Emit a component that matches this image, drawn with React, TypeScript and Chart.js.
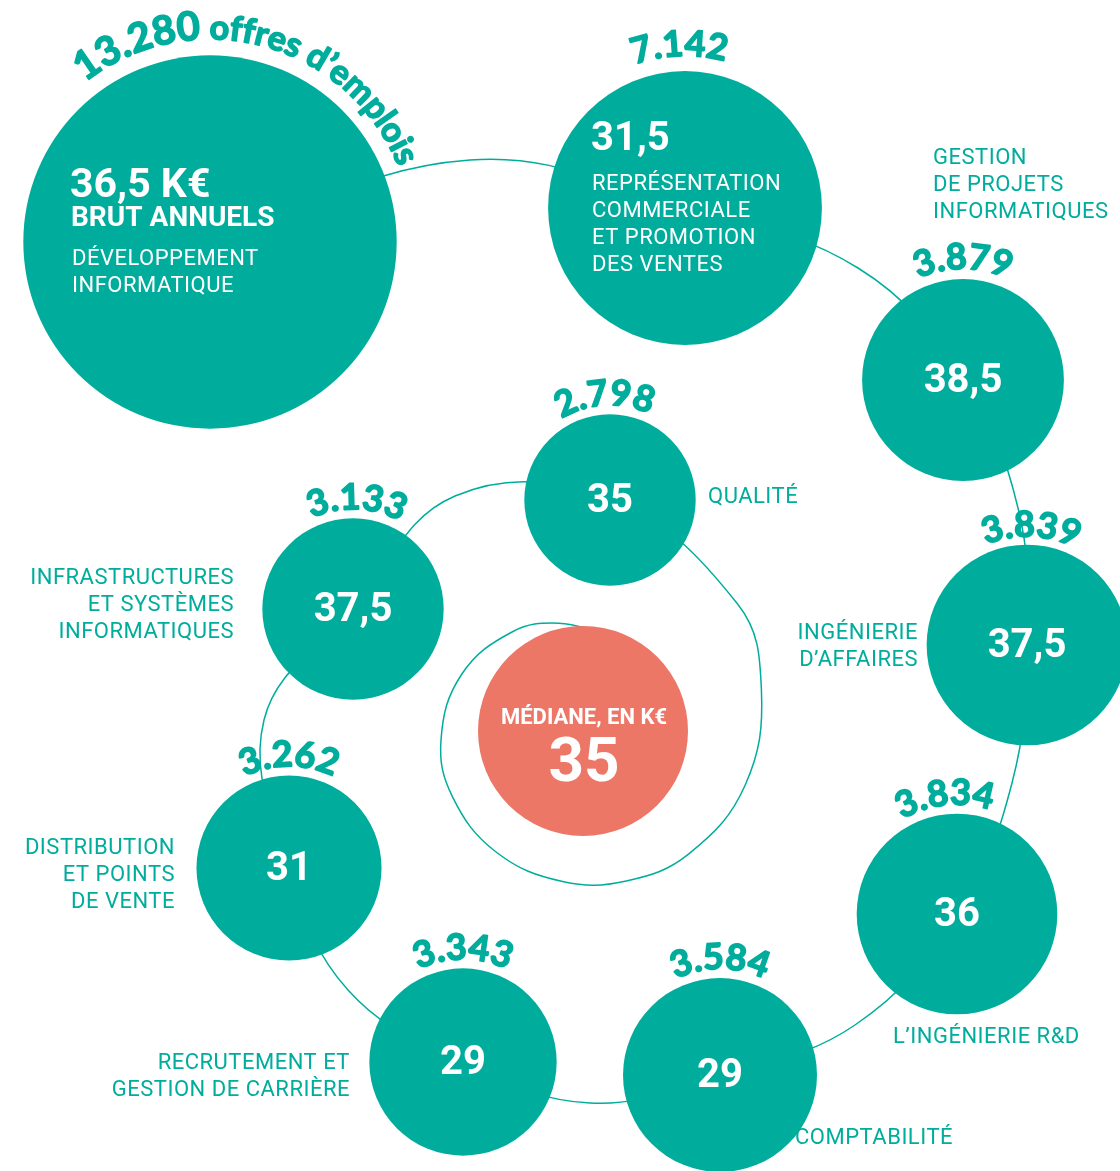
import React, { useEffect, useRef } from 'react';
import { Chart, registerables } from 'chart.js';
Chart.register(...registerables);

// ---------- DATA ----------
const CATEGORY_LINES: string[][] = [
  ['DÉVELOPPEMENT', 'INFORMATIQUE'],
  ['REPRÉSENTATION', 'COMMERCIALE', 'ET PROMOTION', 'DES VENTES'],
  ['GESTION', 'DE PROJETS', 'INFORMATIQUES'],
  ['INGÉNIERIE', 'D’AFFAIRES'],
  ['L’INGÉNIERIE R&D'],
  ['COMPTABILITÉ'],
  ['RECRUTEMENT ET', 'GESTION DE CARRIÈRE'],
  ['DISTRIBUTION', 'ET POINTS', 'DE VENTE'],
  ['INFRASTRUCTURES', 'ET SYSTÈMES', 'INFORMATIQUES'],
  ['QUALITÉ'],
];
const OFFERS = [13280, 7142, 3879, 3839, 3834, 3584, 3343, 3262, 3133, 2798];
const SALARIES = [36.5, 31.5, 38.5, 37.5, 36, 29, 29, 31, 37.5, 35];
const MEDIAN = 35;
const MEDIAN_LABEL = 'MÉDIANE, EN K€';
const UNIT_LINE = 'BRUT ANNUELS';
const OFFERS_SUFFIX = ' offres d’emplois';

// ---------- LAYOUT (positions / styles only) ----------
const W = 1120;
const H = 1171;
const TEAL = '#00AD9D';
const SALMON = '#EC7766';
const RADIUS_K = 1.62; // radius = K * sqrt(offers)
const POS_X = [210, 685, 963, 1027, 957, 720, 463, 289, 353, 610];
const POS_Y = [242, 208, 380, 645, 914, 1075, 1062, 868, 609, 500];
const NUM_ANGLE = [-128, -92, -90, -88, -96, -90, -90, -90, -88, -93];
const NUM_GAP = [16, 15, 10, 8, 9, 9, 9, 9, 9, 9];
const MEDIAN_POS = { x: 583, y: 731, r: 105 };
// label placement: mode, x, first line y (centre)
const LABEL_POS: { mode: string; x: number; y: number }[] = [
  { mode: 'insideBig', x: 72, y: 259 },
  { mode: 'insideHead', x: 592, y: 184 },
  { mode: 'left', x: 933, y: 158 },
  { mode: 'right', x: 918, y: 633 },
  { mode: 'left', x: 893, y: 1037 },
  { mode: 'left', x: 795, y: 1138 },
  { mode: 'right', x: 350, y: 1063 },
  { mode: 'right', x: 175, y: 848 },
  { mode: 'right', x: 234, y: 578 },
  { mode: 'left', x: 708, y: 497 },
];
// connector path between circles: circle indexes or via points
const PATH: (number | [number, number])[] = [
  0, [470, 160], 1, [858, 268], 2, [1018, 508], 3, [1012, 783], 4, [855, 1025], 5,
  [590, 1103], 6, [348, 990], 7, [264, 720], 8, [455, 496], 9,
];
// inner spiral around the median bubble (angle in degrees, distance from spiral centre)
const SPIRAL_CENTER = { x: 575, y: 740 };
const SPIRAL_ANGLES = [-40, -15, 15, 45, 70, 95, 125, 155, 180, 210, 240, 262, 285];
const SPIRAL_RADII = [212, 193, 176, 161, 150, 142, 137, 135, 134, 131, 125, 118, 110];

const fmtOffers = (n: number) => n.toLocaleString('de-DE');
const fmtSal = (n: number) => String(n).replace('.', ',');

type Seg = { text: string; font: string };
// draws segments along an arc; if `fromStart` the angle is the start angle, else the centre angle
function arcText(ctx: CanvasRenderingContext2D, segs: Seg[], cx: number, cy: number, R: number, deg: number, fromStart: boolean) {
  const chars: { c: string; font: string; w: number }[] = [];
  segs.forEach((s) => {
    ctx.font = s.font;
    Array.from(s.text).forEach((c) => chars.push({ c, font: s.font, w: ctx.measureText(c).width }));
  });
  const total = chars.reduce((a, b) => a + b.w, 0);
  let a = (deg * Math.PI) / 180 - (fromStart ? 0 : total / R / 2);
  ctx.save();
  ctx.textAlign = 'center';
  ctx.textBaseline = 'alphabetic';
  ctx.lineJoin = 'round';
  chars.forEach((ch) => {
    const half = ch.w / 2 / R;
    a += half;
    ctx.save();
    ctx.font = ch.font;
    ctx.translate(cx + R * Math.cos(a), cy + R * Math.sin(a));
    ctx.rotate(a + Math.PI / 2);
    ctx.fillText(ch.c, 0, 0);
    ctx.strokeText(ch.c, 0, 0);
    ctx.restore();
    a += half;
  });
  ctx.restore();
}

const NUM_FONT = 'bold 36px Lato, "Open Sans", sans-serif';
const VAL_FONT = 'bold 40px Roboto, sans-serif';
const LAB_FONT = '22px Roboto, sans-serif';

const labelsPlugin = {
  id: 'infoLabels',
  afterDraw(chart: any) {
    const { ctx } = chart;
    const xs = chart.scales.x;
    const ys = chart.scales.y;
    ctx.save();
    OFFERS.forEach((o, i) => {
      const cx = xs.getPixelForValue(POS_X[i]);
      const cy = ys.getPixelForValue(POS_Y[i]);
      const r = RADIUS_K * Math.sqrt(o);
      ctx.fillStyle = TEAL;
      ctx.strokeStyle = TEAL;
      ctx.lineWidth = 1.6;
      (ctx as any).letterSpacing = '0px';
      if (i === 0) {
        arcText(
          ctx,
          [
            { text: fmtOffers(o), font: 'bold 40px Lato, "Open Sans", sans-serif' },
            { text: OFFERS_SUFFIX, font: 'bold 34px Lato, "Open Sans", sans-serif' },
          ],
          cx, cy, r + NUM_GAP[i], NUM_ANGLE[i], true
        );
      } else {
        arcText(ctx, [{ text: fmtOffers(o), font: NUM_FONT }], cx, cy, r + NUM_GAP[i], NUM_ANGLE[i], false);
      }
      const lp = LABEL_POS[i];
      const lines = CATEGORY_LINES[i];
      ctx.textBaseline = 'middle';
      if (lp.mode === 'insideBig') {
        ctx.fillStyle = '#fff';
        ctx.textAlign = 'left';
        ctx.font = 'bold 41px Roboto, sans-serif';
        ctx.fillText(fmtSal(SALARIES[i]) + ' K€', lp.x - 2, lp.y - 72);
        ctx.font = 'bold 28px Roboto, sans-serif';
        ctx.fillText(UNIT_LINE, lp.x - 1, lp.y - 40);
        (ctx as any).letterSpacing = '0.5px';
        ctx.font = LAB_FONT;
        lines.forEach((l, k) => ctx.fillText(l, lp.x, lp.y + k * 27));
      } else if (lp.mode === 'insideHead') {
        ctx.fillStyle = '#fff';
        ctx.textAlign = 'left';
        ctx.font = 'bold 40px Roboto, sans-serif';
        ctx.fillText(fmtSal(SALARIES[i]), lp.x - 1, lp.y - 44);
        (ctx as any).letterSpacing = '0.5px';
        ctx.font = LAB_FONT;
        lines.forEach((l, k) => ctx.fillText(l, lp.x, lp.y + k * 27));
      } else {
        ctx.fillStyle = '#fff';
        ctx.textAlign = 'center';
        ctx.font = VAL_FONT;
        ctx.fillText(fmtSal(SALARIES[i]), cx, cy + 2);
        ctx.fillStyle = TEAL;
        (ctx as any).letterSpacing = '0.5px';
        ctx.font = LAB_FONT;
        ctx.textAlign = lp.mode === 'left' ? 'left' : 'right';
        lines.forEach((l, k) => ctx.fillText(l, lp.x, lp.y + k * 27));
      }
    });
    (ctx as any).letterSpacing = '0px';
    const mx = xs.getPixelForValue(MEDIAN_POS.x);
    const my = ys.getPixelForValue(MEDIAN_POS.y);
    ctx.fillStyle = '#fff';
    ctx.textAlign = 'center';
    ctx.textBaseline = 'middle';
    ctx.font = 'bold 22px Roboto, sans-serif';
    ctx.fillText(MEDIAN_LABEL, mx + 1, my - 13);
    ctx.font = 'bold 62px Roboto, sans-serif';
    ctx.fillText(fmtSal(MEDIAN), mx + 1, my + 34);
    ctx.restore();
  },
};

export default function App() {
  const ref = useRef<HTMLCanvasElement>(null);
  useEffect(() => {
    document.body.style.margin = '0';
    const connector = PATH.map((p) =>
      typeof p === 'number' ? { x: POS_X[p], y: POS_Y[p] } : { x: p[0], y: p[1] }
    );
    SPIRAL_ANGLES.forEach((a, k) => {
      const rad = (a * Math.PI) / 180;
      connector.push({
        x: SPIRAL_CENTER.x + SPIRAL_RADII[k] * Math.cos(rad),
        y: SPIRAL_CENTER.y + SPIRAL_RADII[k] * Math.sin(rad),
      });
    });
    const bubbles = OFFERS.map((o, i) => ({ x: POS_X[i], y: POS_Y[i], r: RADIUS_K * Math.sqrt(o) }));
    const chart = new Chart(ref.current!, {
      type: 'bubble',
      data: {
        datasets: [
          {
            type: 'line',
            data: connector,
            borderColor: TEAL,
            borderWidth: 1.5,
            pointRadius: 0,
            tension: 0.4,
            fill: false,
            order: 3,
            clip: false,
          } as any,
          {
            type: 'bubble',
            data: bubbles,
            backgroundColor: TEAL,
            borderWidth: 0,
            order: 2,
            clip: false,
          } as any,
          {
            type: 'bubble',
            data: [{ x: MEDIAN_POS.x, y: MEDIAN_POS.y, r: MEDIAN_POS.r }],
            backgroundColor: SALMON,
            borderWidth: 0,
            order: 1,
            clip: false,
          } as any,
        ],
      },
      options: {
        responsive: false,
        animation: false,
        events: [],
        layout: { padding: 0, autoPadding: false },
        plugins: { legend: { display: false }, tooltip: { enabled: false }, title: { display: false } },
        scales: {
          x: { type: 'linear', min: 0, max: W, display: false },
          y: { type: 'linear', min: 0, max: H, reverse: true, display: false },
        },
      } as any,
      plugins: [labelsPlugin],
    });
    const fonts = ['bold 36px Lato', 'bold 40px Roboto', '22px Roboto'];
    Promise.all(fonts.map((f) => (document as any).fonts.load(f))).then(() => chart.draw()).catch(() => {});
    return () => chart.destroy();
  }, []);
  return (
    <div style={{ width: W, height: H, background: '#fff' }}>
      <canvas ref={ref} width={W} height={H} style={{ display: 'block' }} />
    </div>
  );
}
